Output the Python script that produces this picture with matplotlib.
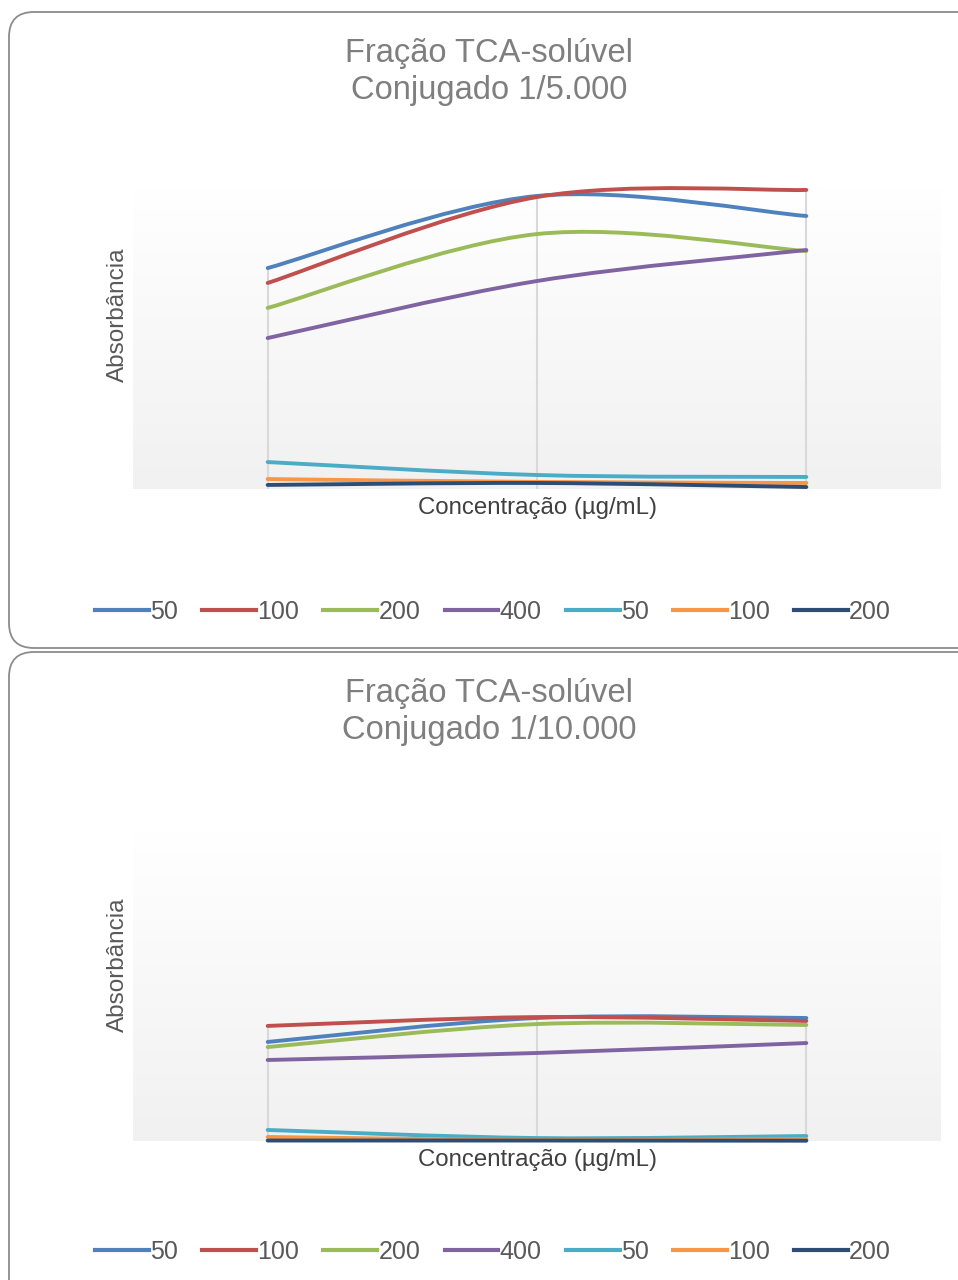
import numpy as np
import matplotlib.pyplot as plt
from matplotlib.path import Path
from matplotlib.patches import PathPatch, FancyBboxPatch
from matplotlib.lines import Line2D

plt.rcParams['font.family'] = ['Liberation Sans', 'DejaVu Sans']

# Dados (absorbância estimada)
concentracoes = ["C1", "C2", "C3"]
rotulos = ["50", "100", "200", "400", "50", "100", "200"]
cores = ["#4F81BD", "#C0504D", "#9BBB59", "#8064A2", "#4BACC6", "#F79646", "#2C4D75"]

# Conjugado 1/5.000
s5_50 = [1.468, 1.947, 1.814]
s5_100 = [1.369, 1.940, 1.987]
s5_200 = [1.203, 1.694, 1.581]
s5_400 = [1.003, 1.382, 1.588]
s5_50b = [0.179, 0.093, 0.080]
s5_100b = [0.066, 0.047, 0.040]
s5_200b = [0.027, 0.040, 0.013]

# Conjugado 1/10.000
s10_50 = [0.637, 0.791, 0.791]
s10_100 = [0.740, 0.797, 0.772]
s10_200 = [0.604, 0.752, 0.746]
s10_400 = [0.521, 0.566, 0.630]
s10_50b = [0.071, 0.019, 0.032]
s10_100b = [0.026, 0.006, 0.013]
s10_200b = [0.003, 0.003, 0.002]

series_5 = [s5_50, s5_100, s5_200, s5_400, s5_50b, s5_100b, s5_200b]
series_10 = [s10_50, s10_100, s10_200, s10_400, s10_50b, s10_100b, s10_200b]


# Curva suavizada estilo Excel (Bezier a partir dos pontos)
def curva_suave(ax, xs, ys, cor):
    pts = np.column_stack([xs, ys]).astype(float)
    n = len(pts)
    verts = [pts[0]]
    codes = [Path.MOVETO]
    for i in range(n - 1):
        p0 = pts[max(i - 1, 0)]
        p1 = pts[i]
        p2 = pts[i + 1]
        p3 = pts[min(i + 2, n - 1)]
        c1 = p1 + (p2 - p0) / 6
        c2 = p2 - (p3 - p1) / 6
        verts += [c1, c2, p2]
        codes += [Path.CURVE4] * 3
    patch = PathPatch(Path(verts, codes), facecolor="none", edgecolor=cor,
                      lw=2.8, capstyle="round", zorder=3, clip_on=False)
    ax.add_patch(patch)


def desenhar(ax, series, ymax, y_rotulo):
    x = np.arange(len(concentracoes))
    grad = np.linspace(1.0, 0.945, 256).reshape(-1, 1)
    ax.imshow(np.dstack([grad, grad, grad]), extent=[0, 1, 0, 1],
              transform=ax.transAxes, aspect="auto", zorder=0)
    # linhas de projeção (do ponto mais alto até o eixo)
    topo = np.max(np.array(series), axis=0)
    ax.vlines(x, 0, topo, color="#D9D9D9", lw=1.5, zorder=1)
    for ys, cor in zip(series, cores):
        curva_suave(ax, x, ys, cor)
    ax.set_xlim(-0.5, len(concentracoes) - 0.5)
    ax.set_ylim(0, ymax)
    ax.set_xticks([])
    ax.set_yticks([])
    for s in ax.spines.values():
        s.set_visible(False)
    ax.set_ylabel("Absorbância", fontsize=17.5, color="#595959", labelpad=3)
    ax.yaxis.label.set_y(y_rotulo)
    ax.set_xlabel("Concentração (µg/mL)", fontsize=17.3, color="#404040", labelpad=6)


fig = plt.figure(figsize=(9.58, 12.8), dpi=100)

# Bordas arredondadas
for y0, h in [(1 - 648 / 1280, 636 / 1280), (-0.05, 1 - 652 / 1280 + 0.05)]:
    caixa = FancyBboxPatch((9 / 958, y0), 1.1, h, boxstyle="round,pad=0,rounding_size=0.026",
                           transform=fig.transFigure, facecolor="none",
                           edgecolor="#8C8C8C", lw=1.3, mutation_aspect=958 / 1280, zorder=-1)
    fig.patches.append(caixa)

ax1 = fig.add_axes([133 / 958, 1 - 489 / 1280, 808 / 958, 301 / 1280])
desenhar(ax1, series_5, 2.0, 0.578)
ax2 = fig.add_axes([133 / 958, 1 - 1141 / 1280, 808 / 958, 311 / 1280])
desenhar(ax2, series_10, 2.0, 0.566)

fig.text(489 / 958, 1 - 72 / 1280, "Fração TCA-solúvel\nConjugado 1/5.000", ha="center",
         va="center", fontsize=23.5, color="#7F7F7F", linespacing=1.27)
fig.text(489 / 958, 1 - 712 / 1280, "Fração TCA-solúvel\nConjugado 1/10.000", ha="center",
         va="center", fontsize=23.5, color="#7F7F7F", linespacing=1.27)

handles = [Line2D([], [], color=c, lw=3) for c in cores]
for yl in [612, 1252]:
    fig.legend(handles, rotulos, loc="center", bbox_to_anchor=(493 / 958, 1 - yl / 1280),
               ncol=7, frameon=False, fontsize=18, handlelength=2.15, handletextpad=0.05,
               columnspacing=0.97, labelcolor="#595959")

fig.savefig("out.png", dpi=100)
